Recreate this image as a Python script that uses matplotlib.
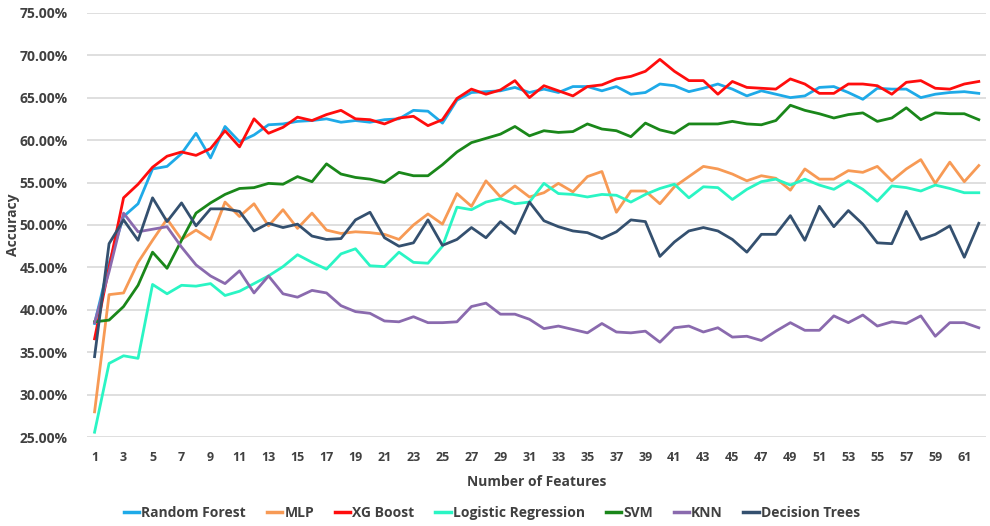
import matplotlib
matplotlib.use("Agg")
import matplotlib.pyplot as plt
from matplotlib.ticker import FuncFormatter, FixedLocator

features = list(range(1, 63))
x_tick_labels = [str(n) for n in range(1, 62, 2)]

random_forest = [38.4, 45.5, 51.0, 52.5, 56.6, 56.9, 58.4, 60.8, 57.9, 61.6, 59.8, 60.6, 61.8, 61.9, 62.2, 62.3,
                 62.5, 62.1, 62.3, 62.1, 62.4, 62.5, 63.5, 63.4, 62.0, 64.7, 65.6, 65.7, 65.8, 66.2, 65.6, 66.0,
                 65.6, 66.3, 66.3, 65.8, 66.3, 65.4, 65.6, 66.6, 66.4, 65.7, 66.1, 66.6, 66.0, 65.2, 65.8, 65.4,
                 65.0, 65.2, 66.2, 66.3, 65.6, 64.8, 66.1, 66.0, 66.0, 65.0, 65.4, 65.6, 65.7, 65.5]
mlp = [28.0, 41.8, 42.0, 45.6, 48.2, 50.7, 48.3, 49.4, 48.3, 52.7, 51.0, 52.5, 49.9, 51.8, 49.6, 51.4,
       49.4, 49.0, 49.2, 49.1, 48.9, 48.3, 50.0, 51.3, 50.1, 53.7, 52.2, 55.2, 53.3, 54.6, 53.3, 53.8,
       54.9, 53.9, 55.7, 56.3, 51.5, 54.0, 54.0, 52.5, 54.5, 55.7, 56.9, 56.6, 56.0, 55.2, 55.8, 55.5,
       54.1, 56.6, 55.4, 55.4, 56.4, 56.2, 56.9, 55.2, 56.6, 57.7, 54.9, 57.4, 55.1, 57.0]
xg_boost = [36.6, 45.0, 53.2, 54.8, 56.8, 58.1, 58.6, 58.2, 59.0, 61.1, 59.2, 62.5, 60.8, 61.5, 62.7, 62.3,
            63.0, 63.5, 62.5, 62.4, 61.9, 62.6, 62.8, 61.7, 62.4, 64.9, 66.0, 65.4, 65.9, 67.0, 65.0, 66.4,
            65.8, 65.2, 66.3, 66.5, 67.2, 67.5, 68.1, 69.5, 68.1, 67.0, 67.0, 65.4, 66.9, 66.2, 66.1, 66.0,
            67.2, 66.6, 65.5, 65.5, 66.6, 66.6, 66.4, 65.4, 66.8, 67.0, 66.1, 66.0, 66.6, 66.9]
logistic_regression = [25.6, 33.7, 34.6, 34.3, 43.0, 41.9, 42.9, 42.8, 43.1, 41.7, 42.2, 43.1, 44.0, 45.1, 46.5, 45.6,
                       44.8, 46.6, 47.2, 45.2, 45.1, 46.8, 45.6, 45.5, 47.5, 52.1, 51.8, 52.7, 53.1, 52.5, 52.7, 54.9,
                       53.7, 53.6, 53.3, 53.6, 53.5, 52.7, 53.6, 54.3, 54.8, 53.2, 54.5, 54.4, 53.0, 54.2, 55.1, 55.4,
                       54.7, 55.4, 54.7, 54.2, 55.2, 54.2, 52.8, 54.6, 54.4, 54.0, 54.7, 54.3, 53.8, 53.8]
svm = [38.6, 38.8, 40.4, 42.9, 46.8, 44.9, 48.2, 51.4, 52.6, 53.6, 54.3, 54.4, 54.9, 54.8, 55.7, 55.1,
       57.2, 56.0, 55.6, 55.4, 55.0, 56.2, 55.8, 55.8, 57.1, 58.6, 59.7, 60.2, 60.7, 61.6, 60.5, 61.1,
       60.9, 61.0, 61.9, 61.3, 61.1, 60.4, 62.0, 61.2, 60.8, 61.9, 61.9, 61.9, 62.2, 61.9, 61.8, 62.3,
       64.1, 63.5, 63.1, 62.6, 63.0, 63.2, 62.2, 62.6, 63.8, 62.4, 63.2, 63.1, 63.1, 62.4]
knn = [38.5, 44.5, 51.4, 49.2, 49.5, 49.8, 47.4, 45.3, 44.0, 43.1, 44.6, 42.0, 44.0, 41.9, 41.5, 42.3,
       42.0, 40.5, 39.8, 39.6, 38.7, 38.6, 39.2, 38.5, 38.5, 38.6, 40.4, 40.8, 39.5, 39.5, 38.9, 37.8,
       38.1, 37.7, 37.3, 38.4, 37.4, 37.3, 37.5, 36.2, 37.9, 38.1, 37.4, 37.9, 36.8, 36.9, 36.4, 37.5,
       38.5, 37.6, 37.6, 39.3, 38.5, 39.4, 38.1, 38.6, 38.4, 39.3, 36.9, 38.5, 38.5, 37.9]
decision_trees = [34.5, 47.8, 50.6, 48.2, 53.2, 50.4, 52.6, 49.9, 51.9, 51.9, 51.6, 49.3, 50.2, 49.7, 50.1, 48.7,
                  48.3, 48.4, 50.6, 51.5, 48.5, 47.5, 47.9, 50.6, 47.6, 48.3, 49.7, 48.5, 50.4, 49.0, 52.7, 50.5,
                  49.8, 49.3, 49.1, 48.4, 49.2, 50.6, 50.4, 46.3, 48.0, 49.3, 49.7, 49.3, 48.3, 46.8, 48.9, 48.9,
                  51.1, 48.2, 52.2, 49.8, 51.7, 50.1, 47.9, 47.8, 51.6, 48.3, 48.9, 49.9, 46.2, 50.2]

series_names = ["Random Forest", "MLP", "XG Boost", "Logistic Regression", "SVM", "KNN", "Decision Trees"]
series_values = [random_forest, mlp, xg_boost, logistic_regression, svm, knn, decision_trees]
colors = ["#1EAAE8", "#F79A55", "#FF0D0D", "#2AF5C4", "#1A871A", "#8A6AAE", "#34506F"]

plt.rcParams['font.family'] = ['Open Sans', 'DejaVu Sans']
text_color = "#404040"

fig = plt.figure(figsize=(9.9, 5.26), dpi=100)
ax = fig.add_axes([0.0882, 0.1686, 0.9078, 0.8073])

for name, vals, c in zip(series_names, series_values, colors):
    ax.plot(features, [v / 100 for v in vals], color=c, lw=2.0, label=name, solid_joinstyle='round')

ax.set_xlim(0.5, 62.5)
ax.set_ylim(0.25, 0.75)
ax.set_yticks([0.25 + 0.05 * i for i in range(11)])
ax.yaxis.set_major_formatter(FuncFormatter(lambda v, p: f"{v * 100:.2f}%"))
ax.xaxis.set_major_locator(FixedLocator(list(range(1, 62, 2))))
ax.set_xticklabels(x_tick_labels)

ax.grid(axis='y', color='#D9D9D9', lw=1.2)
ax.set_axisbelow(True)
for s in ax.spines.values():
    s.set_visible(False)
ax.tick_params(length=0)
ax.tick_params(axis='y', pad=14, labelsize=10, labelcolor=text_color)
ax.tick_params(axis='x', pad=10, labelsize=9, labelcolor=text_color)
for lab in ax.get_yticklabels() + ax.get_xticklabels():
    lab.set_fontweight('bold')

ax.set_xlabel("Number of Features", fontsize=10, fontweight='bold', color=text_color, labelpad=8)
ax.set_ylabel("Accuracy", fontsize=10, fontweight='bold', color=text_color)
ax.yaxis.set_label_coords(-0.075, 0.5)

leg = fig.legend(loc='center', bbox_to_anchor=(0.497, 0.025), ncol=7, frameon=False,
                 handlelength=1.1, handletextpad=0.15, columnspacing=1.5,
                 prop={'weight': 'bold', 'size': 10})
for t in leg.get_texts():
    t.set_color(text_color)
for h in leg.legend_handles:
    h.set_linewidth(2.5)

fig.savefig("out.png", dpi=100)
